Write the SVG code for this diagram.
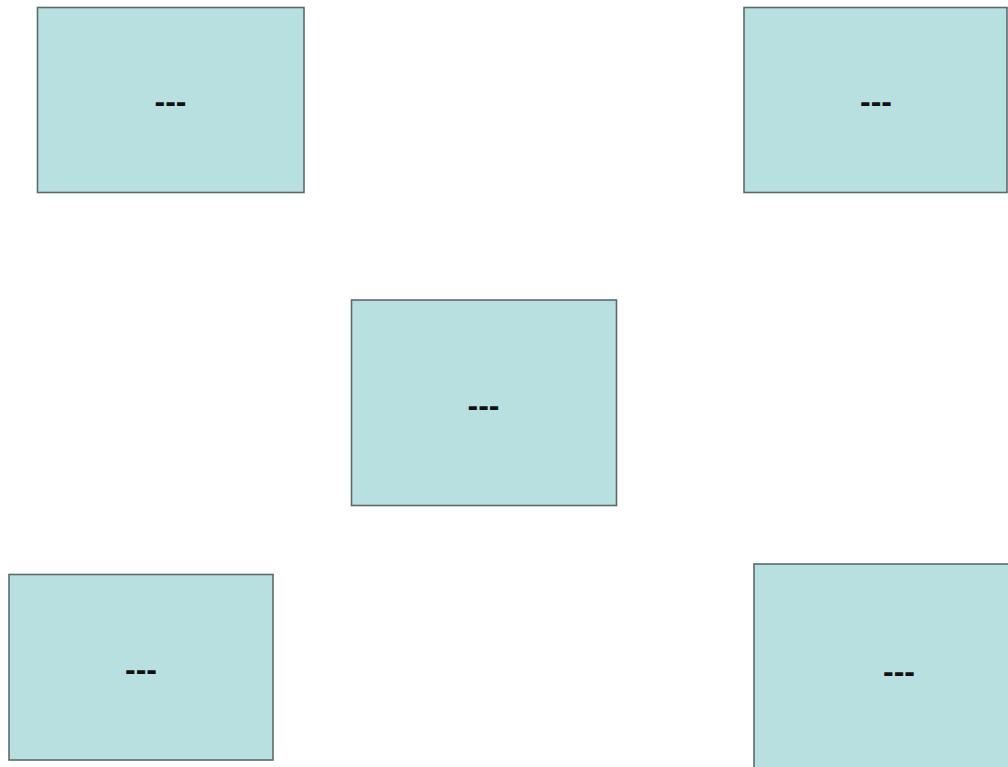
<svg xmlns="http://www.w3.org/2000/svg" width="1008" height="767" viewBox="0 0 1008 767">
<style>
.box{fill:#b8e0e1;stroke:#5e6a6b;stroke-width:1.6}
.lbl{font-family:"Liberation Sans",Arial,sans-serif;font-size:32px;font-weight:bold;fill:#111;text-anchor:middle}
</style>
<rect width="1008" height="767" fill="#ffffff"/>
<g id="connectors"></g>
<g id="node1"><rect class="box" x="37.5" y="7.5" width="266.5" height="185"/><text class="lbl" x="170.5" y="112">---</text></g>
<g id="node2"><rect class="box" x="744" y="7.5" width="263" height="185"/><text class="lbl" x="876" y="112">---</text></g>
<g id="node3"><rect class="box" x="351.5" y="300" width="265" height="205.5"/><text class="lbl" x="483.5" y="416">---</text></g>
<g id="node4"><rect class="box" x="9" y="574.5" width="264" height="185.5"/><text class="lbl" x="141" y="679.5">---</text></g>
<g id="node5"><rect class="box" x="754" y="564" width="290" height="218"/><text class="lbl" x="899" y="682">---</text></g>
</svg>
